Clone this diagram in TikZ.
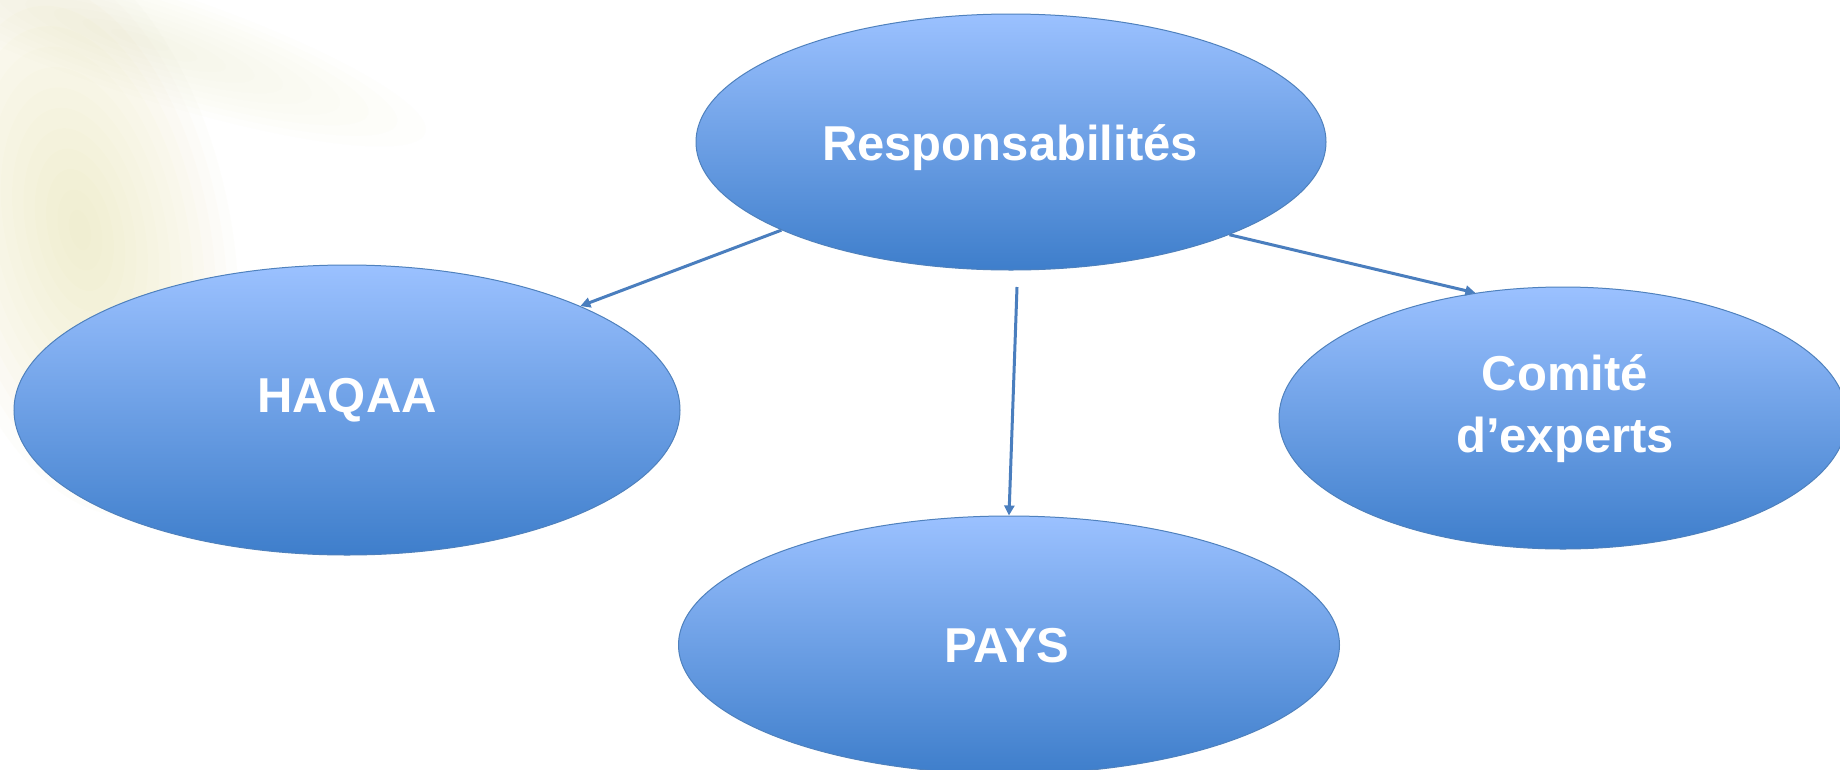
\documentclass[tikz,border=0pt]{standalone}
\usepackage{fontspec}
\setmainfont{Liberation Sans}
\usetikzlibrary{shapes.geometric,arrows.meta}
\definecolor{elltop}{RGB}{155,193,255}
\definecolor{ellbot}{RGB}{62,126,203}
\definecolor{ellline}{RGB}{79,129,189}
\definecolor{arr}{RGB}{74,126,190}
\definecolor{glowa}{RGB}{231,227,169}
\definecolor{glowb}{RGB}{235,233,196}
\begin{document}
\begin{tikzpicture}[x=1pt,y=-1pt,
  ell/.style={ellipse, draw=ellline, line width=1pt, top color=elltop, bottom color=ellbot, inner sep=0pt},
  lbl/.style={text=white, font=\fontsize{49}{62}\selectfont\bfseries, inner sep=0pt},
  conn/.style={draw=arr, line width=3pt, -{Triangle[length=10pt,width=10pt]}},
  glowring/.style={fill opacity=0.045}]
\useasboundingbox (0,0) rectangle (1840,769);
\fill[white] (0,0) rectangle (1840,769);
% faint background glow (top left)
\foreach \i in {1,...,14}{
  \fill[glowa, glowring, rotate around={12:(80,230)}] (80,230) ellipse [x radius={150*\i/14}, y radius={290*\i/14}];
}
\foreach \i in {1,...,10}{
  \fill[glowb, fill opacity=0.04, rotate around={-18:(140,40)}] (140,40) ellipse [x radius={300*\i/10}, y radius={55*\i/10}];
}
% ellipses
\node[ell, minimum width=630pt, minimum height=256pt] (resp) at (1011,142) {};
\node[ell, minimum width=666pt, minimum height=290pt] (haqaa) at (347,410) {};
\node[ell, minimum width=568pt, minimum height=262pt] (comite) at (1563,418) {};
\node[ell, minimum width=661pt, minimum height=258pt] (pays) at (1009,645) {};
% labels
\node[lbl, anchor=base] (tresp) at (1010,160) {Responsabilités};
\node[lbl, anchor=base] (thaqaa) at (347,412) {HAQAA};
\node[lbl, anchor=base] (tpays) at (1007,662) {PAYS};
\node[lbl, anchor=base, align=center] (tcom) at (1565,452) {Comité\\d’experts};
% connectors
\draw[conn] (resp.201.9) -- (haqaa.24.8);
\draw[conn] (resp.337.3) -- (comite.125.1);
\coordinate (vstart) at (1017,287);
\draw[conn] (vstart) -- (pays.north);
\end{tikzpicture}
\end{document}
